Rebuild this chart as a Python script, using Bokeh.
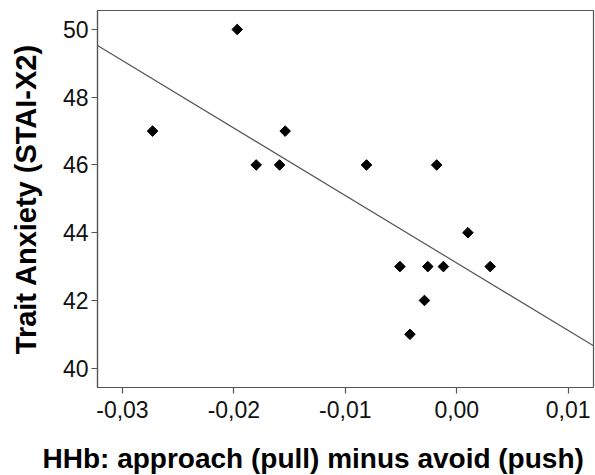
import numpy as np
from bokeh.plotting import figure
from bokeh.models import FixedTicker, CustomJSTickFormatter, Range1d, ColumnDataSource, Title
from bokeh.embed import file_html
from bokeh.resources import INLINE

# Data
hhb_diff = [-0.0273, -0.0197, -0.0180, -0.0159, -0.0154, -0.0081, -0.0051,
            -0.0042, -0.0029, -0.0026, -0.0018, -0.0012, 0.0010, 0.0030]
trait_anxiety = [47, 50, 46, 46, 47, 46, 43, 41, 42, 43, 46, 43, 44, 43]
x_ticks = [-0.03, -0.02, -0.01, 0.0, 0.01]
y_ticks = [40, 42, 44, 46, 48, 50]
x_lo, x_hi = -0.03224, 0.01227
y_lo, y_hi = 39.43, 50.56
x_title = "HHb: approach (pull) minus avoid (push)"
y_title = "Trait Anxiety (STAI-X2)"

slope, intercept = np.polyfit(hhb_diff, trait_anxiety, 1)
fit_x = [x_lo, x_hi]
fit_y = [intercept + slope * v for v in fit_x]

FONT = "Liberation Sans"
GRAY = "#555555"

W, H = 595, 475
BL, BR, BT, BB = 97, 2, 10, 88
p = figure(width=W, height=H, output_backend="svg", toolbar_location=None,
           x_range=Range1d(x_lo, x_hi), y_range=Range1d(y_lo, y_hi),
           min_border_left=BL, min_border_right=BR, min_border_top=BT,
           min_border_bottom=BB)
p.xgrid.visible = False
p.ygrid.visible = False
p.outline_line_color = GRAY
p.outline_line_width = 1.2
p.background_fill_color = "white"
p.border_fill_color = "white"

p.line(fit_x, fit_y, line_color=GRAY, line_width=1.2)
src = ColumnDataSource(dict(x=hhb_diff, y=trait_anxiety))
p.scatter("x", "y", source=src, marker="square", angle=np.pi / 4, size=7.5,
          fill_color="black", line_color="black")

fmt = CustomJSTickFormatter(code="""
var t = Math.abs(tick) < 1e-9 ? 0 : tick;
return t.toFixed(2).replace('.', ',');
""")

for ax in (p.xaxis[0], p.yaxis[0]):
    ax.axis_line_color = GRAY
    ax.axis_line_width = 1.2
    ax.major_tick_line_color = GRAY
    ax.major_tick_line_width = 1.2
    ax.major_tick_out = 6
    ax.major_tick_in = 0
    ax.minor_tick_line_color = None
    ax.major_label_text_font = FONT
    ax.major_label_text_font_size = "23px"
    ax.major_label_text_color = "#111111"
    ax.axis_label_text_font = FONT
    ax.axis_label_text_font_style = "bold"
    ax.axis_label_text_color = "black"

p.xaxis.ticker = FixedTicker(ticks=x_ticks)
p.xaxis.formatter = fmt
p.xaxis.major_label_standoff = 7
# blank spacer label so the title below sits where the reference has it
p.xaxis.axis_label = " "
p.xaxis.axis_label_text_font_size = "2px"
p.xaxis.axis_label_standoff = 17

p.yaxis.ticker = FixedTicker(ticks=y_ticks)
p.yaxis.major_label_standoff = 3
p.yaxis.axis_label = y_title
p.yaxis.axis_label_text_font_size = "29px"
p.yaxis.axis_label_standoff = 18

p.add_layout(Title(text=x_title, text_font=FONT, text_font_size="28px",
                   text_font_style="bold", text_color="black",
                   align="left", offset=-55, standoff=0,
                   vertical_align="top"), "below")

open("out.html", "w").write(file_html(p, INLINE))
